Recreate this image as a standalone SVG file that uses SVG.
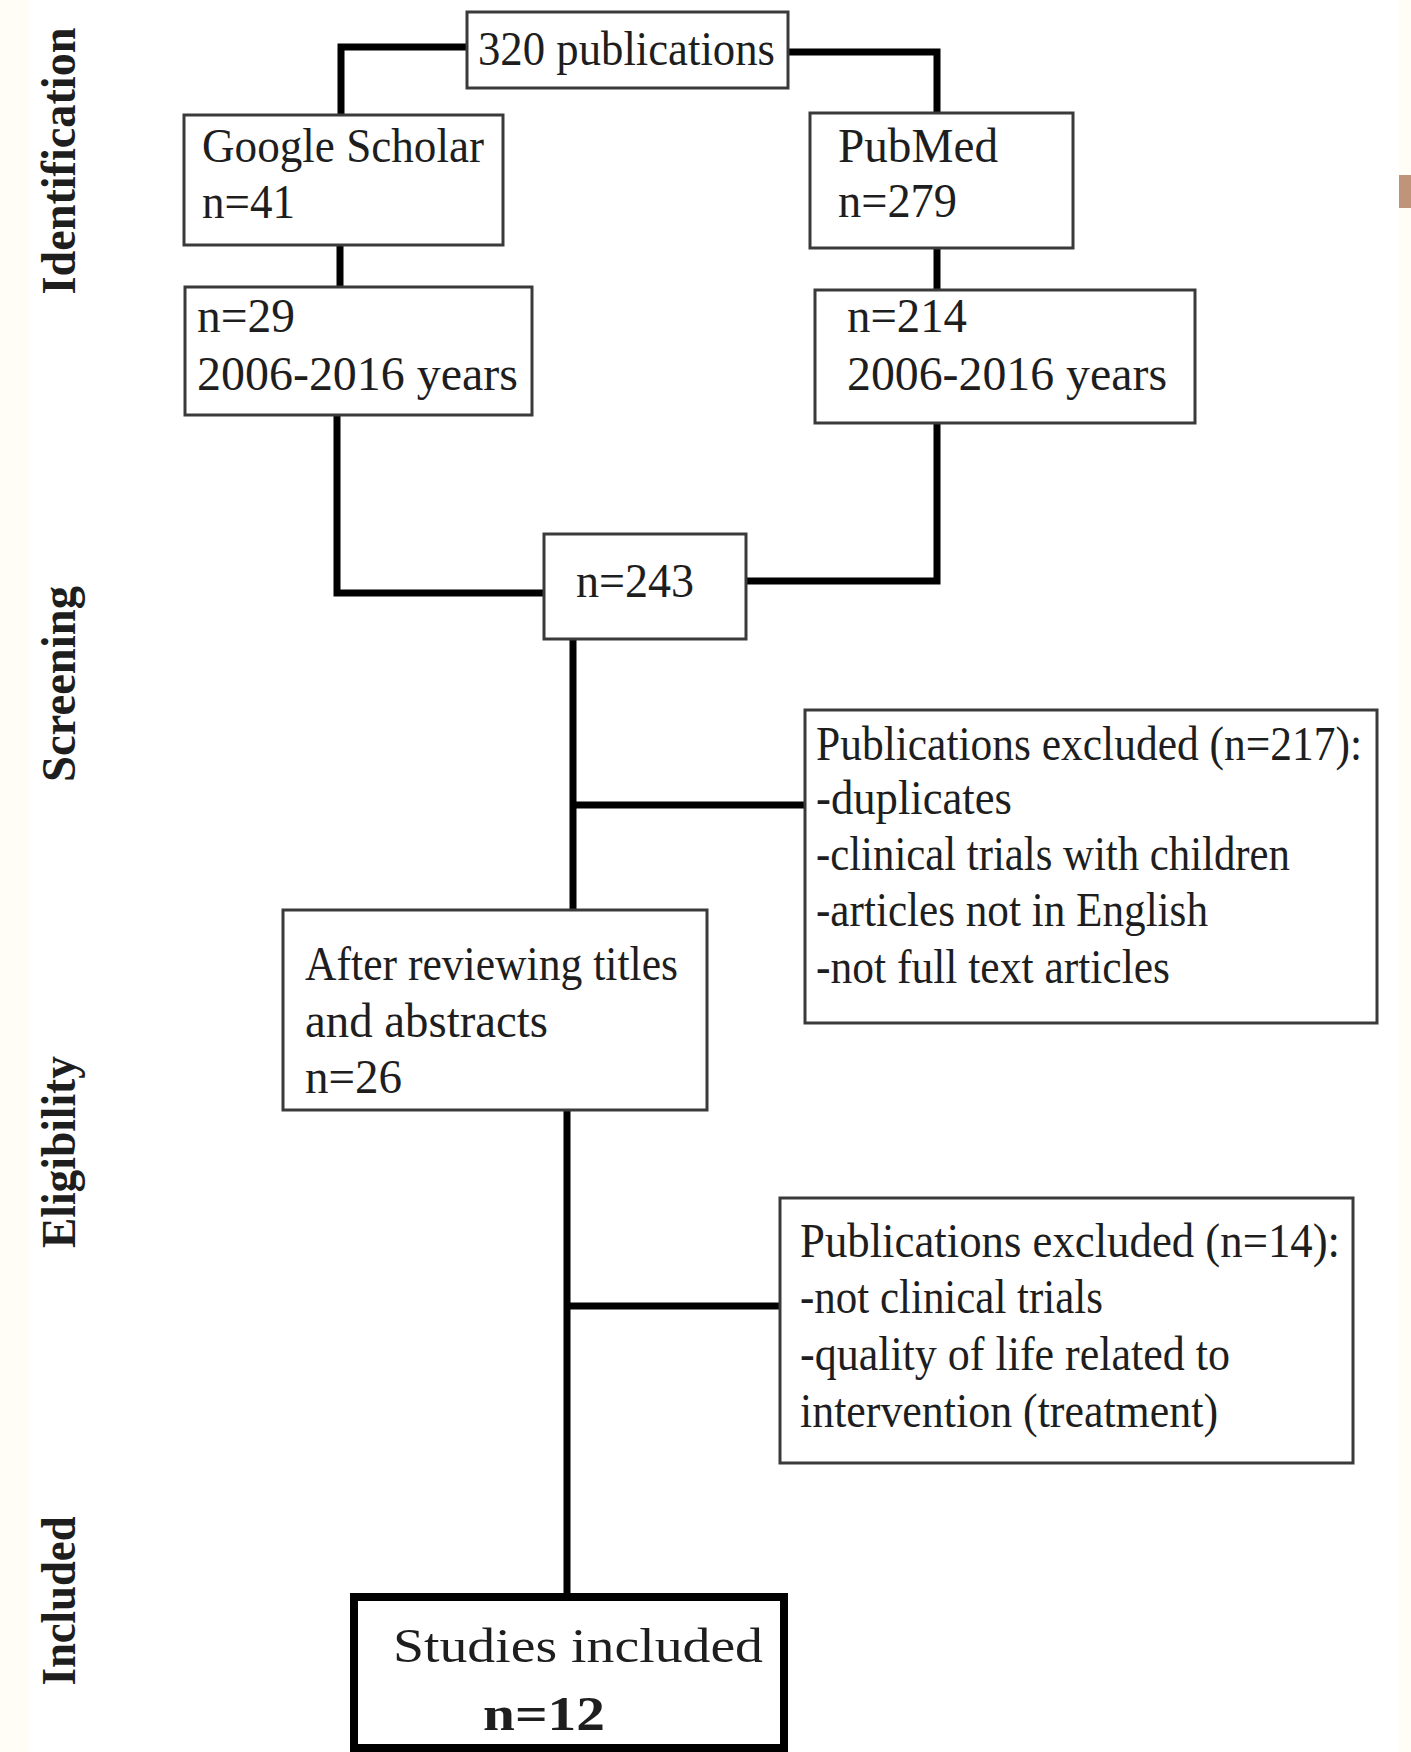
<svg xmlns="http://www.w3.org/2000/svg" width="1411" height="1752" viewBox="0 0 1411 1752">
<style>
.box{fill:#fff;stroke:#3a3a3a;stroke-width:3}
.thick{fill:#fff;stroke:#000;stroke-width:8}
.t{font-family:"Liberation Serif","Times New Roman",serif;font-size:48px;fill:#1e1e1e}
.side{font-family:"Liberation Serif","Times New Roman",serif;font-size:48px;font-weight:bold;fill:#1e1e1e}
.c{fill:none;stroke:#000;stroke-width:7;stroke-linejoin:miter;stroke-linecap:butt}
</style>
<rect x="0" y="0" width="1411" height="1752" fill="#ffffff"/>
<rect x="0" y="0" width="29" height="1752" fill="#fffdf5"/>
<rect x="1399" y="0" width="12" height="1752" fill="#fffdf5"/>
<rect x="1399" y="175" width="12" height="33" fill="#c09478"/>

<g id="side-labels">
<text class="side" transform="translate(75,161) rotate(-90)" text-anchor="middle" textLength="267" lengthAdjust="spacingAndGlyphs">Identification</text>
<text class="side" transform="translate(75,684) rotate(-90)" text-anchor="middle" textLength="196" lengthAdjust="spacingAndGlyphs">Screening</text>
<text class="side" transform="translate(75,1152) rotate(-90)" text-anchor="middle" textLength="192" lengthAdjust="spacingAndGlyphs">Eligibility</text>
<text class="side" transform="translate(75,1601) rotate(-90)" text-anchor="middle" textLength="169" lengthAdjust="spacingAndGlyphs">Included</text>
</g>

<g id="connectors">
<path class="c" d="M467 47 H341 V116"/>
<path class="c" d="M788 52 H937 V114"/>
<path class="c" d="M340 245 V288"/>
<path class="c" d="M937 248 V291"/>
<path class="c" d="M337 415 V593 H545"/>
<path class="c" d="M937 423 V581 H745"/>
<path class="c" d="M573 639 V911"/>
<path class="c" d="M573 805 H806"/>
<path class="c" d="M567 1110 V1597"/>
<path class="c" d="M567 1306 H781"/>
</g>

<g id="n-total">
<rect class="box" x="467" y="12" width="321" height="76"/>
<text class="t" x="478" y="65" textLength="297" lengthAdjust="spacingAndGlyphs">320 publications</text>
</g>
<g id="n-google">
<rect class="box" x="184" y="115" width="319" height="130"/>
<text class="t" x="202" y="162" textLength="282" lengthAdjust="spacingAndGlyphs">Google Scholar</text>
<text class="t" x="202" y="218" textLength="93" lengthAdjust="spacingAndGlyphs">n=41</text>
</g>
<g id="n-pubmed">
<rect class="box" x="810" y="113" width="263" height="135"/>
<text class="t" x="838" y="162" textLength="160" lengthAdjust="spacingAndGlyphs">PubMed</text>
<text class="t" x="838" y="217" textLength="119" lengthAdjust="spacingAndGlyphs">n=279</text>
</g>
<g id="n-google-years">
<rect class="box" x="185" y="287" width="347" height="128"/>
<text class="t" x="197" y="332" textLength="98" lengthAdjust="spacingAndGlyphs">n=29</text>
<text class="t" x="197" y="390" textLength="321" lengthAdjust="spacingAndGlyphs">2006-2016 years</text>
</g>
<g id="n-pubmed-years">
<rect class="box" x="815" y="290" width="380" height="133"/>
<text class="t" x="847" y="332" textLength="120" lengthAdjust="spacingAndGlyphs">n=214</text>
<text class="t" x="847" y="390" textLength="320" lengthAdjust="spacingAndGlyphs">2006-2016 years</text>
</g>
<g id="n-screen">
<rect class="box" x="544" y="534" width="202" height="105"/>
<text class="t" x="576" y="597" textLength="118" lengthAdjust="spacingAndGlyphs">n=243</text>
</g>
<g id="n-excl1">
<rect class="box" x="805" y="710" width="572" height="313"/>
<text class="t" x="816" y="760" font-size="43" textLength="546" lengthAdjust="spacingAndGlyphs">Publications excluded (n=217):</text>
<text class="t" x="816" y="814" textLength="196" lengthAdjust="spacingAndGlyphs">-duplicates</text>
<text class="t" x="816" y="870" textLength="474" lengthAdjust="spacingAndGlyphs">-clinical trials with children</text>
<text class="t" x="816" y="926" textLength="392" lengthAdjust="spacingAndGlyphs">-articles not in English</text>
<text class="t" x="816" y="983" textLength="354" lengthAdjust="spacingAndGlyphs">-not full text articles</text>
</g>
<g id="n-eligible">
<rect class="box" x="283" y="910" width="424" height="200"/>
<text class="t" x="305" y="980" textLength="373" lengthAdjust="spacingAndGlyphs">After reviewing titles</text>
<text class="t" x="305" y="1037" textLength="243" lengthAdjust="spacingAndGlyphs">and abstracts</text>
<text class="t" x="305" y="1093" textLength="97" lengthAdjust="spacingAndGlyphs">n=26</text>
</g>
<g id="n-excl2">
<rect class="box" x="780" y="1198" width="573" height="265"/>
<text class="t" x="800" y="1257" textLength="540" lengthAdjust="spacingAndGlyphs">Publications excluded (n=14):</text>
<text class="t" x="800" y="1313" textLength="303" lengthAdjust="spacingAndGlyphs">-not clinical trials</text>
<text class="t" x="800" y="1370" textLength="430" lengthAdjust="spacingAndGlyphs">-quality of life related to</text>
<text class="t" x="800" y="1427" textLength="418" lengthAdjust="spacingAndGlyphs">intervention (treatment)</text>
</g>
<g id="n-included">
<rect class="thick" x="354" y="1597" width="430" height="151"/>
<text class="t" x="393" y="1662" font-size="50" textLength="370" lengthAdjust="spacingAndGlyphs">Studies included</text>
<text class="t" x="483" y="1730" font-size="50" font-weight="bold" textLength="122" lengthAdjust="spacingAndGlyphs">n=12</text>
</g>
</svg>
